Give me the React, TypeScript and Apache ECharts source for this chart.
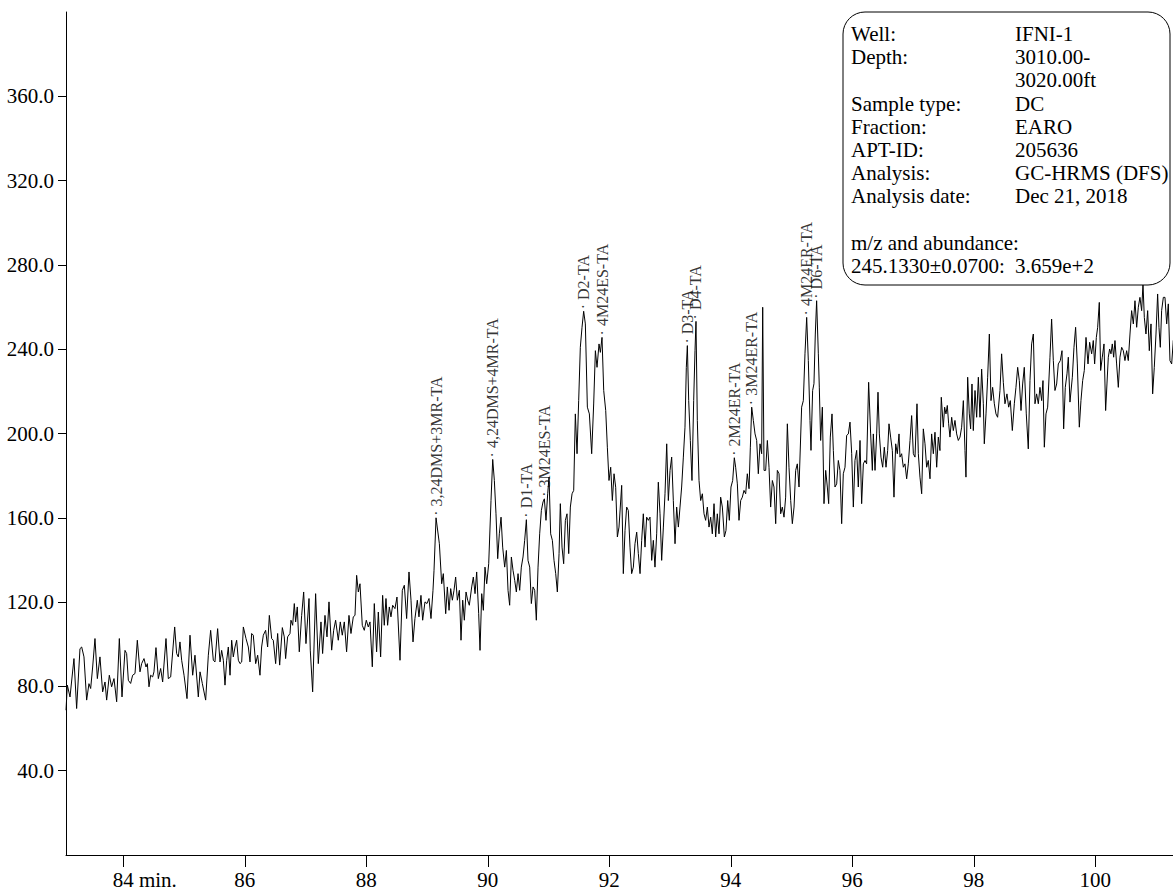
import React, { useEffect, useRef } from "react";
import * as echarts from "echarts";

// m/z 245.1330 trace: [retention time (min), abundance], in time order.
const trace83to86: [number, number][] = [
  [83.057, 68.7], [83.079, 80.6], [83.123, 75.0], [83.188, 93.2], [83.232, 69.5], [83.287, 97.9],
  [83.315, 98.7], [83.353, 94.0], [83.397, 73.5], [83.435, 81.3], [83.463, 79.0], [83.496, 89.2],
  [83.534, 102.7], [83.573, 83.7], [83.616, 94.0], [83.66, 77.4], [83.699, 82.1], [83.726, 73.5],
  [83.77, 85.3], [83.808, 79.8], [83.847, 83.7], [83.891, 72.7], [83.935, 102.7], [83.979, 75.0],
  [84.028, 97.1], [84.055, 95.6], [84.083, 82.9], [84.121, 81.4], [84.154, 85.3], [84.193, 86.1],
  [84.231, 101.9], [84.275, 86.9], [84.302, 90.8], [84.341, 93.2], [84.374, 89.2], [84.396, 90.8],
  [84.423, 79.8], [84.45, 85.3], [84.483, 84.5], [84.505, 86.9], [84.538, 98.4], [84.577, 83.7],
  [84.615, 88.5], [84.648, 82.1], [84.703, 102.7], [84.741, 83.7], [84.78, 84.5], [84.846, 108.2],
  [84.878, 95.6], [84.906, 94.0], [84.933, 101.1], [84.961, 92.4], [85.0, 85.3], [85.049, 74.2],
  [85.098, 104.3], [85.142, 85.3], [85.18, 94.8], [85.235, 75.0], [85.263, 86.9], [85.301, 81.4],
  [85.356, 73.5], [85.4, 94.8], [85.438, 106.6], [85.482, 92.4], [85.509, 91.6], [85.553, 107.4],
  [85.592, 91.6], [85.619, 97.1], [85.647, 92.4], [85.674, 80.6], [85.702, 92.4], [85.729, 98.7],
  [85.757, 85.3], [85.784, 101.9], [85.811, 94.0], [85.839, 98.7], [85.866, 101.9], [85.894, 92.4],
  [85.921, 90.8], [85.949, 91.6], [85.976, 108.2], [86.02, 102.7], [86.058, 98.7], [86.086, 91.6],
];

const trace86to89: [number, number][] = [
  [86.113, 105.1], [86.14, 104.3], [86.179, 90.8], [86.212, 94.8], [86.25, 85.3], [86.277, 98.7],
  [86.305, 104.3], [86.343, 106.6], [86.376, 98.7], [86.404, 113.7], [86.442, 102.7], [86.469, 101.9],
  [86.508, 90.8], [86.541, 105.1], [86.574, 90.1], [86.618, 107.9], [86.65, 103.5], [86.672, 93.2],
  [86.705, 103.5], [86.744, 105.1], [86.76, 111.4], [86.788, 109.0], [86.815, 119.3], [86.837, 110.6],
  [86.864, 117.7], [86.897, 96.4], [86.936, 113.7], [86.969, 124.8], [87.007, 100.3], [87.057, 121.7],
  [87.078, 97.2], [87.117, 77.4], [87.166, 124.0], [87.21, 90.8], [87.254, 110.6], [87.281, 95.6],
  [87.32, 113.7], [87.353, 103.5], [87.386, 120.1], [87.43, 97.2], [87.463, 106.6], [87.495, 111.4],
  [87.539, 101.9], [87.572, 110.6], [87.605, 104.3], [87.638, 110.6], [87.676, 96.4], [87.715, 113.7],
  [87.748, 105.1], [87.786, 113.0], [87.814, 113.7], [87.841, 132.7], [87.869, 124.8], [87.896, 128.7],
  [87.934, 109.0], [87.967, 106.6], [88.0, 111.4], [88.033, 108.2], [88.061, 110.6], [88.099, 89.3],
  [88.132, 119.3], [88.17, 96.4], [88.198, 115.3], [88.236, 94.0], [88.269, 123.2], [88.296, 109.0],
  [88.324, 121.7], [88.351, 109.0], [88.379, 117.7], [88.406, 113.0], [88.434, 118.5], [88.472, 116.9],
  [88.505, 122.4], [88.555, 92.4], [88.593, 125.6], [88.626, 128.0], [88.664, 112.2], [88.703, 134.3],
  [88.736, 120.9], [88.769, 101.1], [88.801, 112.2], [88.84, 120.9], [88.867, 113.0], [88.9, 123.2],
  [88.928, 111.4], [88.966, 120.1], [88.999, 119.3], [89.032, 121.7], [89.065, 112.2], [89.098, 125.6],
];

const trace89to92: [number, number][] = [
  [89.115, 135.1], [89.148, 160.0], [89.203, 147.7], [89.241, 128.7], [89.268, 133.5], [89.307, 114.5],
  [89.334, 127.2], [89.362, 116.1], [89.389, 126.4], [89.417, 120.9], [89.444, 125.6], [89.471, 131.9],
  [89.499, 120.9], [89.532, 125.6], [89.559, 101.9], [89.587, 120.9], [89.614, 111.4], [89.642, 124.8],
  [89.669, 120.9], [89.696, 118.5], [89.735, 127.2], [89.762, 131.9], [89.79, 124.0], [89.817, 134.3],
  [89.85, 114.5], [89.872, 97.1], [89.9, 124.0], [89.927, 116.1], [89.954, 136.6], [89.982, 128.7],
  [90.015, 138.2], [90.053, 168.2], [90.081, 187.7], [90.108, 177.7], [90.135, 161.9], [90.163, 140.6],
  [90.19, 152.4], [90.218, 160.3], [90.245, 146.1], [90.278, 136.6], [90.306, 144.5], [90.333, 125.6],
  [90.36, 118.5], [90.388, 141.4], [90.415, 135.1], [90.443, 130.3], [90.47, 124.8], [90.498, 133.5],
  [90.525, 125.6], [90.552, 136.6], [90.58, 141.4], [90.607, 149.3], [90.635, 159.1], [90.662, 139.8],
  [90.69, 136.6], [90.717, 119.3], [90.745, 127.2], [90.772, 125.6], [90.799, 111.4], [90.827, 136.6],
  [90.854, 152.4], [90.882, 163.5], [90.909, 167.5], [90.931, 169.0], [90.958, 158.8], [90.986, 171.4],
  [91.008, 179.3], [91.035, 152.4], [91.063, 149.3], [91.09, 139.8], [91.118, 133.5], [91.145, 124.8],
  [91.173, 143.0], [91.194, 166.7], [91.222, 146.1], [91.249, 138.2], [91.277, 158.8], [91.304, 161.9],
  [91.332, 143.0], [91.359, 165.1], [91.387, 171.4], [91.414, 173.0], [91.441, 209.3], [91.469, 190.4],
  [91.496, 215.6], [91.523, 240.9], [91.551, 250.4], [91.578, 258.0], [91.606, 252.0], [91.639, 212.5],
  [91.672, 209.3], [91.71, 190.4], [91.743, 214.0], [91.771, 239.3], [91.798, 231.4], [91.831, 242.5],
  [91.853, 238.5], [91.88, 245.6], [91.908, 220.4], [91.941, 210.9], [91.968, 193.5], [91.995, 177.7],
  [92.023, 184.0], [92.05, 168.2], [92.078, 180.9], [92.105, 174.5], [92.133, 150.9], [92.16, 155.6],
];

const trace92to95: [number, number][] = [
  [92.204, 175.4], [92.231, 133.5], [92.259, 154.0], [92.286, 165.1], [92.313, 163.5], [92.341, 146.1],
  [92.368, 133.5], [92.396, 136.6], [92.423, 147.7], [92.451, 153.2], [92.478, 143.0], [92.506, 133.5],
  [92.533, 149.3], [92.56, 161.9], [92.588, 146.1], [92.615, 160.3], [92.643, 158.8], [92.67, 160.3],
  [92.698, 139.8], [92.725, 149.3], [92.752, 136.6], [92.78, 152.4], [92.807, 176.9], [92.835, 161.9],
  [92.862, 139.8], [92.89, 155.6], [92.917, 171.4], [92.945, 195.1], [92.972, 168.2], [93.0, 182.5],
  [93.027, 188.8], [93.054, 168.2], [93.082, 147.7], [93.109, 165.1], [93.137, 155.6], [93.164, 165.1],
  [93.191, 174.6], [93.219, 188.8], [93.246, 203.0], [93.268, 231.4], [93.285, 241.7], [93.307, 215.6],
  [93.334, 196.7], [93.361, 177.7], [93.389, 215.6], [93.411, 239.3], [93.427, 253.2], [93.449, 206.2],
  [93.477, 177.7], [93.504, 168.2], [93.532, 171.4], [93.559, 161.9], [93.586, 158.8], [93.614, 165.1],
  [93.641, 155.6], [93.669, 160.3], [93.696, 152.4], [93.724, 166.7], [93.751, 150.9], [93.778, 161.9],
  [93.806, 152.4], [93.833, 169.8], [93.861, 165.1], [93.894, 150.9], [93.921, 154.0], [93.949, 168.2],
  [93.976, 158.8], [94.003, 174.6], [94.031, 177.7], [94.058, 188.5], [94.08, 184.0], [94.108, 176.1],
  [94.135, 158.8], [94.163, 168.2], [94.19, 169.8], [94.217, 173.0], [94.245, 171.4], [94.272, 180.9],
  [94.3, 173.8], [94.322, 193.5], [94.344, 212.5], [94.371, 206.2], [94.399, 199.8], [94.426, 196.7],
  [94.453, 180.9], [94.481, 195.1], [94.508, 190.4], [94.525, 259.9], [94.547, 182.5], [94.574, 182.5],
  [94.602, 196.7], [94.629, 184.0], [94.656, 165.1], [94.684, 177.7], [94.711, 174.6], [94.739, 157.2],
  [94.766, 182.5], [94.794, 180.9], [94.821, 161.9], [94.848, 165.1], [94.876, 160.3], [94.903, 169.8],
  [94.931, 204.6], [94.958, 184.0], [94.986, 168.2], [95.013, 157.2], [95.041, 165.1], [95.068, 182.5],
  [95.095, 185.6], [95.123, 174.6],
];

const trace95to98: [number, number][] = [
  [95.166, 212.5], [95.194, 215.6], [95.221, 237.8], [95.249, 255.1], [95.276, 234.6], [95.304, 206.2],
  [95.32, 192.0], [95.347, 220.4], [95.369, 223.6], [95.391, 247.2], [95.413, 263.0], [95.441, 237.8],
  [95.457, 222.0], [95.479, 196.7], [95.507, 212.5], [95.534, 166.7], [95.562, 182.5], [95.589, 174.6],
  [95.611, 166.7], [95.638, 198.3], [95.666, 209.3], [95.688, 192.0], [95.715, 174.6], [95.743, 176.1],
  [95.77, 187.2], [95.797, 182.5], [95.825, 157.2], [95.852, 180.9], [95.88, 184.0], [95.907, 199.1],
  [95.935, 199.8], [95.962, 205.4], [95.99, 190.4], [96.017, 165.1], [96.044, 187.2], [96.072, 192.0],
  [96.099, 174.6], [96.127, 196.7], [96.154, 166.7], [96.182, 185.6], [96.209, 187.2], [96.236, 185.6],
  [96.269, 224.3], [96.302, 199.8], [96.33, 182.5], [96.346, 199.8], [96.374, 182.5], [96.401, 199.8],
  [96.423, 219.6], [96.445, 199.8], [96.472, 188.8], [96.5, 184.0], [96.527, 193.5], [96.555, 184.0],
  [96.582, 191.9], [96.604, 204.6], [96.631, 198.3], [96.659, 191.9], [96.686, 169.8], [96.714, 195.1],
  [96.741, 190.4], [96.769, 199.8], [96.785, 188.8], [96.812, 190.4], [96.84, 184.0], [96.867, 185.6],
  [96.895, 178.5], [96.922, 185.6], [96.95, 196.7], [96.977, 208.5], [97.005, 190.4], [97.032, 188.8],
  [97.065, 214.1], [97.087, 190.4], [97.114, 179.3], [97.142, 171.4], [97.169, 202.2], [97.197, 195.1],
  [97.224, 184.0], [97.251, 187.2], [97.279, 178.5], [97.306, 199.8], [97.334, 190.4], [97.361, 200.6],
  [97.389, 184.0], [97.416, 198.3], [97.443, 191.9], [97.465, 217.2], [97.498, 203.0], [97.52, 212.5],
  [97.542, 209.3], [97.564, 213.3], [97.586, 204.6], [97.608, 198.3], [97.636, 207.7], [97.663, 201.4],
  [97.69, 206.2], [97.718, 199.8], [97.745, 196.7], [97.773, 198.3], [97.8, 203.0], [97.828, 215.6],
  [97.855, 191.9], [97.871, 179.3], [97.899, 226.7], [97.926, 209.3], [97.948, 202.2], [97.97, 223.5],
  [97.992, 201.4], [98.02, 220.4], [98.047, 207.7], [98.075, 226.7], [98.102, 207.7], [98.129, 230.6],
  [98.157, 214.1], [98.173, 195.1], [98.201, 209.3], [98.228, 226.7], [98.256, 247.2],
];

const trace98to101: [number, number][] = [
  [98.283, 215.6], [98.31, 221.9], [98.338, 214.1], [98.365, 209.3], [98.392, 207.7], [98.431, 220.4],
  [98.458, 237.8], [98.486, 224.3], [98.513, 214.1], [98.546, 218.8], [98.574, 212.5], [98.601, 215.6],
  [98.634, 201.4], [98.667, 214.1], [98.694, 221.9], [98.722, 231.4], [98.749, 225.1], [98.777, 210.9],
  [98.804, 223.5], [98.831, 231.4], [98.864, 209.3], [98.897, 192.7], [98.925, 225.1], [98.952, 242.5],
  [98.98, 247.2], [99.007, 214.1], [99.034, 218.8], [99.062, 214.1], [99.089, 221.9], [99.117, 215.6],
  [99.139, 225.1], [99.161, 193.5], [99.188, 209.3], [99.216, 212.5], [99.254, 236.2], [99.281, 254.3],
  [99.309, 234.6], [99.336, 220.4], [99.364, 223.5], [99.391, 233.0], [99.424, 234.6], [99.452, 239.3],
  [99.479, 202.2], [99.506, 221.9], [99.534, 228.3], [99.556, 236.2], [99.583, 214.9], [99.622, 226.7],
  [99.649, 240.9], [99.676, 250.4], [99.704, 233.0], [99.737, 203.0], [99.764, 215.6], [99.792, 225.1],
  [99.819, 229.9], [99.847, 245.6], [99.88, 233.0], [99.907, 243.3], [99.94, 237.8], [99.967, 244.1],
  [99.989, 233.0], [100.017, 245.6], [100.039, 250.4], [100.066, 262.2], [100.088, 229.9], [100.115, 236.2],
  [100.143, 242.5], [100.17, 210.9], [100.192, 223.5], [100.214, 236.2], [100.236, 240.1], [100.258, 237.8],
  [100.28, 242.5], [100.302, 236.2], [100.324, 244.1], [100.351, 233.0], [100.379, 221.9], [100.406, 236.2],
  [100.434, 240.9], [100.461, 239.3], [100.488, 234.6], [100.516, 239.3], [100.543, 234.6], [100.571, 247.2],
  [100.598, 258.3], [100.626, 252.0], [100.653, 263.0], [100.681, 250.4], [100.708, 259.9], [100.735, 264.6],
  [100.763, 258.3], [100.785, 271.0], [100.807, 255.1], [100.834, 247.2], [100.862, 258.3], [100.889, 239.3],
  [100.917, 252.0], [100.944, 218.8], [100.971, 231.4], [100.999, 247.2], [101.026, 266.2], [101.048, 250.4],
  [101.07, 240.9], [101.092, 258.3], [101.12, 264.6], [101.147, 264.6], [101.175, 252.0], [101.202, 261.5],
  [101.229, 234.6], [101.257, 233.0], [101.284, 244.1], [101.312, 239.3],
];

// Identified compounds and their retention times (min).
const peakNames = [
  "3,24DMS+3MR-TA", "4,24DMS+4MR-TA", "D1-TA", "3M24ES-TA", "D2-TA", "4M24ES-TA",
  "D3-TA", "D4-TA", "2M24ER-TA", "3M24ER-TA", "4M24ER-TA", "D6-TA",
];
const peakTimes = [
  89.148, 90.081, 90.635, 90.931, 91.578, 91.88,
  93.285, 93.427, 94.058, 94.344, 95.249, 95.413,
];

// Axis extents and tick values.
const timeRange = [83.057, 101.279];
const abundanceRange = [0, 400];
const timeTicks = [84, 86, 88, 90, 92, 94, 96, 98, 100];
const abundanceTicks = [40, 80, 120, 160, 200, 240, 280, 320, 360];

// Sample information panel.
const infoLabels = [
  "Well:", "Depth:", "", "Sample type:", "Fraction:", "APT-ID:", "Analysis:",
  "Analysis date:", "", "m/z and abundance:", "245.1330\u00b10.0700:",
];
const infoValues = [
  "IFNI-1", "3010.00-", "3020.00ft", "DC", "EARO", "205636", "GC-HRMS (DFS)",
  "Dec 21, 2018", "", "", "3.659e+2",
];

const FONT = "Liberation Serif, Times New Roman, serif";

export default function App() {
  const ref = useRef<HTMLDivElement>(null);

  useEffect(() => {
    if (!ref.current) return;
    const chart = echarts.init(ref.current, undefined, { renderer: "svg" });

    const trace = [
      ...trace83to86, ...trace86to89, ...trace89to92,
      ...trace92to95, ...trace95to98, ...trace98to101,
    ];

    // Anchor each compound label on the trace sample nearest its retention time.
    const apexes = peakTimes.map((t, i) => {
      let best = trace[0];
      for (const p of trace) {
        if (Math.abs(p[0] - t) < Math.abs(best[0] - t)) best = p;
      }
      return { name: peakNames[i], value: best };
    });

    const lineH = 23.2;

    chart.setOption({
      animation: false,
      backgroundColor: "#ffffff",
      grid: {
        left: 66, right: 0, top: 12, bottom: 36,
        containLabel: false, outerBoundsMode: "none",
      },
      xAxis: {
        type: "value",
        min: timeRange[0],
        max: timeRange[1],
        axisLine: { show: true, onZero: false, lineStyle: { color: "#000", width: 1 } },
        axisTick: { show: true, length: 12, customValues: timeTicks, lineStyle: { color: "#000", width: 1 } },
        axisLabel: {
          customValues: timeTicks,
          margin: 14,
          color: "#000",
          fontFamily: FONT,
          fontSize: 21,
          formatter: (v: number) => (v === timeTicks[0] ? `{p|}${v}{m| min.}` : `${v}`),
          rich: {
            p: { width: 43, fontFamily: FONT, fontSize: 21, color: "#000" },
            m: { width: 43, align: "left", fontFamily: FONT, fontSize: 21, color: "#000" },
          },
        },
        splitLine: { show: false },
      },
      yAxis: {
        type: "value",
        min: abundanceRange[0],
        max: abundanceRange[1],
        axisLine: { show: true, onZero: false, lineStyle: { color: "#000", width: 1 } },
        axisTick: { show: true, length: 8, customValues: abundanceTicks, lineStyle: { color: "#000", width: 1 } },
        axisLabel: {
          customValues: abundanceTicks,
          margin: 12,
          color: "#000",
          fontFamily: FONT,
          fontSize: 21,
          formatter: (v: number) => v.toFixed(1),
        },
        splitLine: { show: false },
      },
      series: [
        {
          type: "line",
          data: trace,
          showSymbol: false,
          symbol: "none",
          silent: true,
          lineStyle: { color: "#000", width: 1 },
        },
        {
          type: "scatter",
          data: apexes,
          symbolSize: 0,
          silent: true,
          label: {
            show: true,
            position: "top",
            distance: 2,
            rotate: 90,
            align: "left",
            verticalAlign: "middle",
            formatter: "\u00b7 {b}",
            fontFamily: FONT,
            fontSize: 16,
            color: "#000",
          },
        },
      ],
      graphic: {
        elements: [
          {
            type: "rect",
            z: 100,
            shape: { x: 843, y: 12, width: 327, height: 273, r: 22 },
            style: { fill: "#fff", stroke: "#000", lineWidth: 1 },
          },
          {
            type: "text",
            z: 101,
            x: 851,
            y: 34 - lineH / 2,
            style: {
              text: infoLabels.join("\n"),
              fontFamily: FONT,
              fontSize: 21,
              lineHeight: lineH,
              fill: "#000",
              verticalAlign: "top",
            },
          },
          {
            type: "text",
            z: 101,
            x: 1015,
            y: 34 - lineH / 2,
            style: {
              text: infoValues.join("\n"),
              fontFamily: FONT,
              fontSize: 21,
              lineHeight: lineH,
              fill: "#000",
              verticalAlign: "top",
            },
          },
        ],
      },
    });

    return () => chart.dispose();
  }, []);

  return (
    <div
      ref={ref}
      style={{ position: "absolute", left: 0, top: 0, width: 1173, height: 891 }}
    />
  );
}
